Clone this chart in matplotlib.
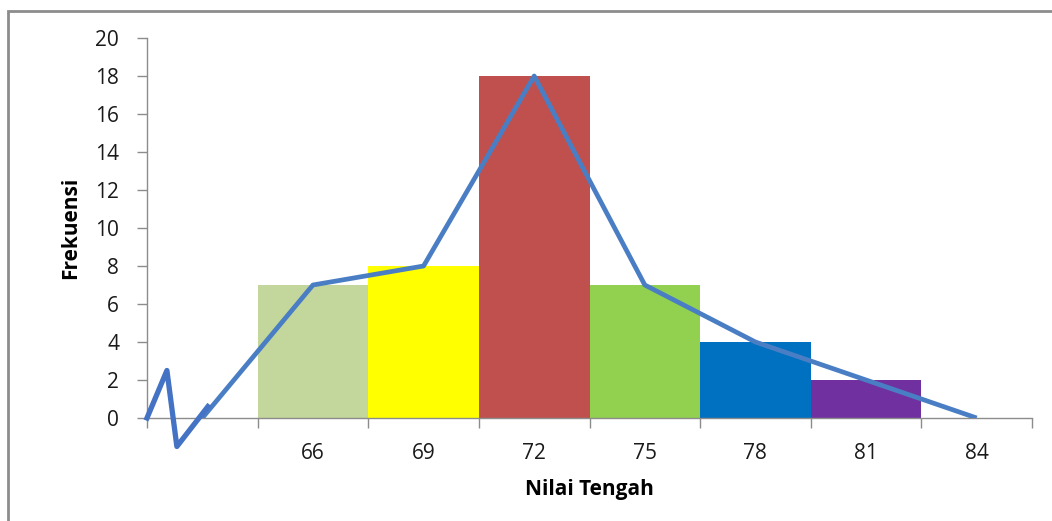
import numpy as np
import matplotlib.pyplot as plt
from matplotlib.patches import Rectangle

# class midpoints and frequencies
nilai_tengah = ['', '66', '69', '72', '75', '78', '81', '84']
frekuensi = [0, 7, 8, 18, 7, 4, 2, 0]
bar_colors = ['#C3D69B', '#FFFF00', '#C0504D', '#92D050', '#0070C0', '#7030A0']

# zigzag break mark at the start of the axis (category units, frequency units)
break_x = [-0.5, -0.32, -0.23, 0.05]
break_y = [0.0, 2.5, -1.5, 0.6]

plt.rcParams['font.family'] = ['Open Sans', 'DejaVu Sans']

fig = plt.figure(figsize=(10.52, 5.21), dpi=100)
fig.patches.append(Rectangle((8/1052, -0.1), 1.2, 1 - 11/521 + 0.1, transform=fig.transFigure,
                             fill=False, edgecolor='#8C8C8C', lw=2))
ax = fig.add_axes([147/1052, 103/521, (1032-147)/1052, (418-38)/521])

locs = np.arange(len(nilai_tengah))
ax.bar(locs[1:7], frekuensi[1:7], width=1.0, color=bar_colors, zorder=1)
ax.plot(locs, frekuensi, color='#4A7EC4', lw=3.4, zorder=3, solid_capstyle='butt')
ax.plot(break_x, break_y, color='#4472C4', lw=3.8, zorder=4, clip_on=False)

ax.set_xlim(-0.5, 7.5)
ax.set_ylim(0, 20)
ax.set_yticks(np.arange(0, 21, 2))
ax.set_xticks(np.arange(-0.5, 8, 1))
ax.set_xticklabels([])
ax.set_xticks(locs, nilai_tengah, minor=True)
ax.tick_params(axis='x', which='major', length=7, width=1, color='#8C8C8C', direction='out')
ax.tick_params(axis='x', which='minor', length=0, pad=18, labelsize=15, labelcolor='#1A1A1A')
ax.tick_params(axis='y', length=7, width=1, color='#8C8C8C', pad=13, labelsize=15, labelcolor='#1A1A1A')

for s in ['top', 'right']:
    ax.spines[s].set_visible(False)
for s in ['left', 'bottom']:
    ax.spines[s].set_color('#8C8C8C')
    ax.spines[s].set_linewidth(1)

ax.set_ylabel('Frekuensi', fontsize=15, fontweight='bold', labelpad=10)
ax.set_xlabel('Nilai Tengah', fontsize=15, fontweight='bold', labelpad=11)

fig.savefig('out.png', dpi=100)
